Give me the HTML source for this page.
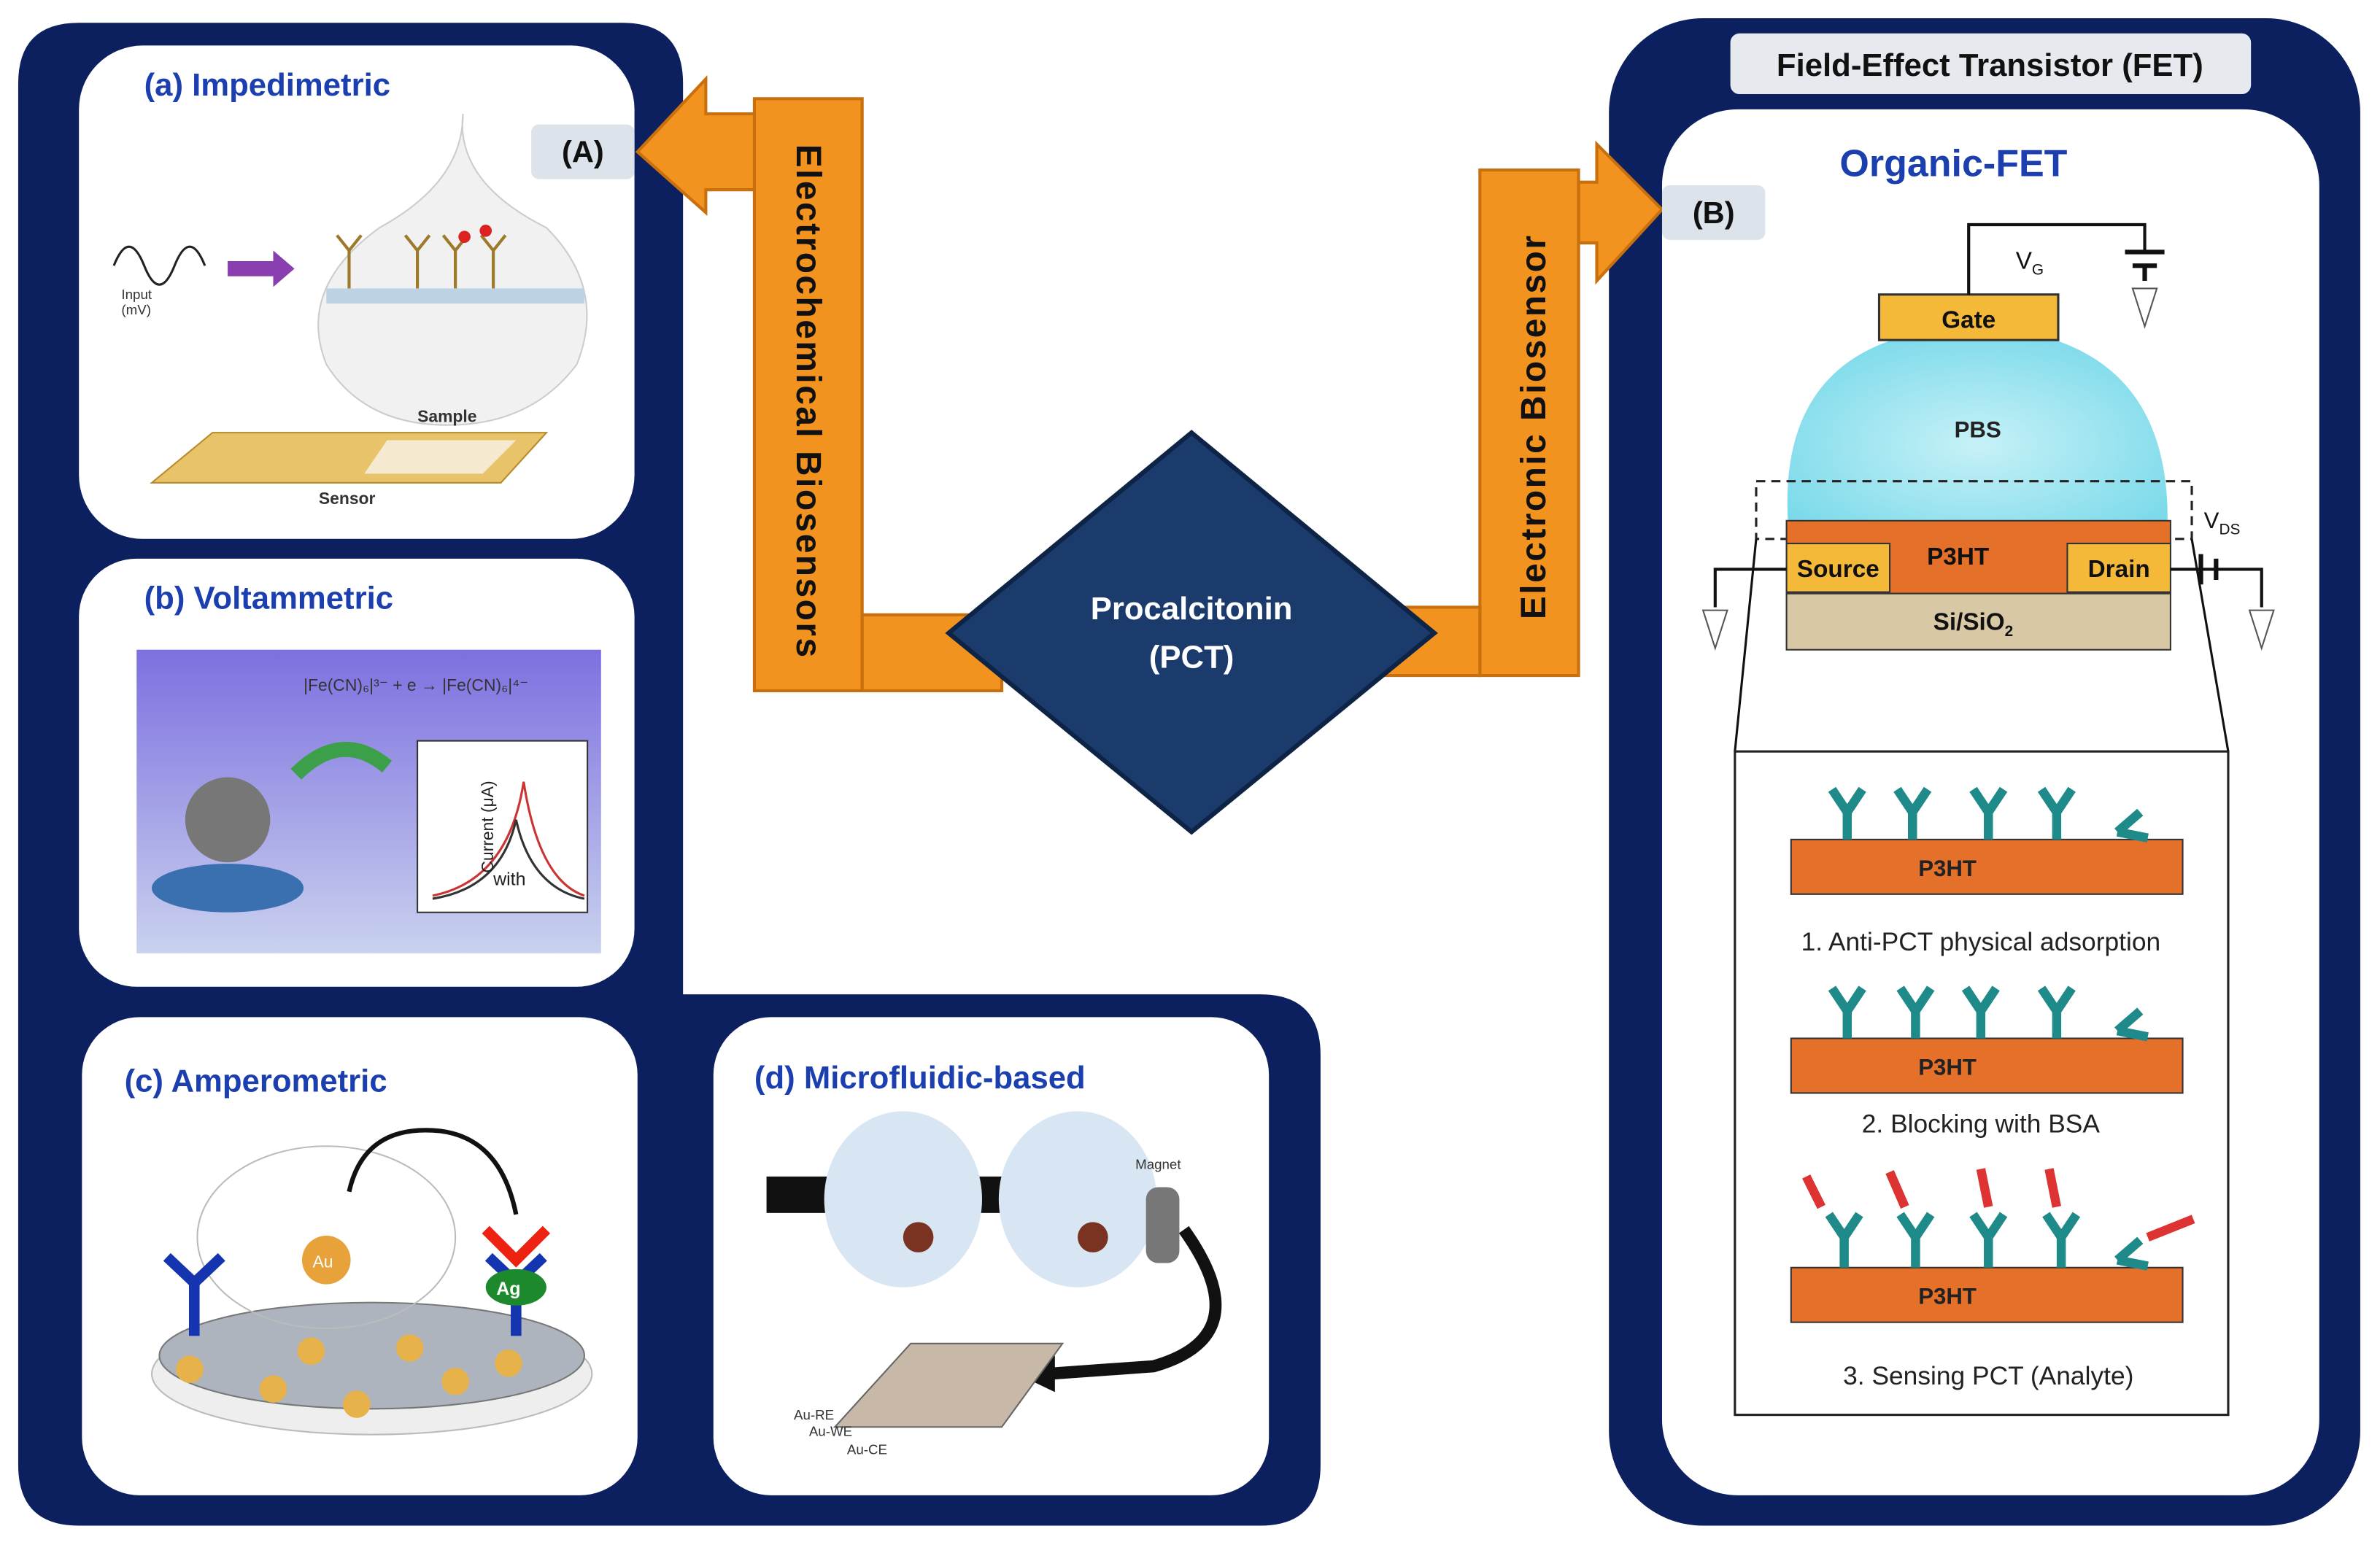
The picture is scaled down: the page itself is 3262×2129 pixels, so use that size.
<!DOCTYPE html>
<html><head><meta charset="utf-8"><style>
html,body{margin:0;padding:0;background:#fff;}
svg{display:block;}
text{font-family:"Liberation Sans",sans-serif;}
</style></head><body>
<svg width="3262" height="2129" viewBox="0 0 1568 1023" preserveAspectRatio="none" xmlns="http://www.w3.org/2000/svg">
<defs>
<linearGradient id="vg" x1="0" y1="0" x2="0" y2="1"><stop offset="0" stop-color="#7d6fe0"/><stop offset="1" stop-color="#c9d2ee"/></linearGradient>
<radialGradient id="pbs" cx="0.5" cy="0.6" r="0.7"><stop offset="0" stop-color="#c7f1f7"/><stop offset="1" stop-color="#6fd6e8"/></radialGradient>
</defs>
<rect width="1568" height="1023" fill="#fff"/>
<!-- left navy L shape -->
<path d="M52,15 H410 Q450,15 450,55 V655 H830 Q870,655 870,695 V965 Q870,1005 830,1005 H52 Q12,1005 12,965 V55 Q12,15 52,15 Z" fill="#0c1f5e"/>
<!-- panels -->
<rect x="52" y="30" width="366" height="325" rx="42" fill="#fff"/>
<rect x="52" y="368" width="366" height="282" rx="38" fill="#fff"/>
<rect x="54" y="670" width="366" height="315" rx="38" fill="#fff"/>
<rect x="470" y="670" width="366" height="315" rx="38" fill="#fff"/>
<text x="95" y="63" font-size="21" font-weight="bold" fill="#1b3fae">(a) Impedimetric</text>
<text x="95" y="401" font-size="21" font-weight="bold" fill="#1b3fae">(b) Voltammetric</text>
<text x="82" y="719" font-size="21" font-weight="bold" fill="#1b3fae">(c) Amperometric</text>
<text x="497" y="717" font-size="21" font-weight="bold" fill="#1b3fae">(d) Microfluidic-based</text>
<!-- (a) illustration -->
<path d="M305,75 Q300,120 360,150 Q400,190 380,240 Q350,280 295,280 Q240,280 215,240 Q195,190 250,150 Q305,120 305,75Z" fill="#f1f1f1" stroke="#ccc"/>
<rect x="215" y="190" width="170" height="10" fill="#bcd3e6"/>
<g stroke="#9c7a2a" stroke-width="2" fill="none">
<path d="M230,190V165M222,155L230,165L238,155"/><path d="M275,190V165M267,155L275,165L283,155"/><path d="M300,190V165M292,155L300,165L308,155"/><path d="M325,190V165M317,155L325,165L333,155"/></g>
<circle cx="320" cy="152" r="4" fill="#d22"/><circle cx="306" cy="156" r="4" fill="#d22"/>
<path d="M75,175 q10,-25 20,0 q10,25 20,0 q10,-25 20,0" stroke="#222" fill="none" stroke-width="1.5"/>
<text x="80" y="197" font-size="9" fill="#333">Input</text><text x="80" y="207" font-size="9" fill="#333">(mV)</text>
<path d="M150,172 h30 v-7 l14,12 -14,12 v-7 h-30Z" fill="#8a3fb0"/>
<path d="M100,318 L140,285 L360,285 L330,318Z" fill="#e9c36a" stroke="#b58c2a"/>
<path d="M255,290 L340,290 L318,312 L240,312Z" fill="#f5ead0"/>
<text x="275" y="278" font-size="11" font-weight="bold" fill="#333">Sample</text>
<text x="210" y="332" font-size="11" font-weight="bold" fill="#333">Sensor</text>
<!-- (b) illustration -->
<rect x="90" y="428" width="306" height="200" fill="url(#vg)"/>
<ellipse cx="150" cy="585" rx="50" ry="16" fill="#3a6fb0"/>
<circle cx="150" cy="540" r="28" fill="#777"/>
<path d="M195,510 q30,-30 60,-5" stroke="#3ca04a" stroke-width="10" fill="none"/>
<rect x="275" y="488" width="112" height="113" fill="#fff" stroke="#333"/>
<path d="M285,590 Q335,580 345,515 Q355,580 385,590" stroke="#c33" fill="none" stroke-width="1.5"/>
<path d="M285,592 Q330,585 340,540 Q350,585 385,592" stroke="#333" fill="none" stroke-width="1.5"/>
<text x="200" y="455" font-size="11" fill="#333" font-family="Liberation Serif">|Fe(CN)₆|³⁻ + e → |Fe(CN)₆|⁴⁻</text>
<text x="325" y="583" font-size="12" fill="#222" font-family="Liberation Serif">with</text>
<text x="270" y="600" font-size="11" fill="#222" transform="rotate(-90 285 560)" font-family="Liberation Serif">Current (μA)</text>
<!-- (c) illustration -->
<ellipse cx="245" cy="905" rx="145" ry="40" fill="#eee" stroke="#bbb"/>
<ellipse cx="245" cy="893" rx="140" ry="35" fill="#aeb4bd" stroke="#777"/>
<ellipse cx="215" cy="815" rx="85" ry="60" fill="none" stroke="#bbb"/>
<circle cx="215" cy="830" r="16" fill="#e8a23a"/><text x="206" y="835" font-size="11" fill="#fff">Au</text>
<g fill="#e8b24a"><circle cx="125" cy="902" r="9"/><circle cx="180" cy="915" r="9"/><circle cx="205" cy="890" r="9"/><circle cx="235" cy="925" r="9"/><circle cx="270" cy="888" r="9"/><circle cx="300" cy="910" r="9"/><circle cx="335" cy="898" r="9"/></g>
<path d="M128,880V845M110,828L128,845L146,828" stroke="#1535b0" stroke-width="7" fill="none"/>
<path d="M340,880V845M322,828L340,845L358,828" stroke="#1535b0" stroke-width="7" fill="none"/>
<path d="M320,810L340,830L360,810" stroke="#e21" stroke-width="7" fill="none"/>
<ellipse cx="340" cy="848" rx="20" ry="12" fill="#1c8a2c"/><text x="327" y="853" font-size="12" font-weight="bold" fill="#fff">Ag</text>
<path d="M230,785 Q240,740 290,745 Q330,750 340,800" stroke="#111" stroke-width="3" fill="none"/>
<!-- (d) illustration -->
<rect x="505" y="775" width="40" height="24" fill="#111"/>
<rect x="640" y="775" width="22" height="24" fill="#111"/>
<ellipse cx="595" cy="790" rx="52" ry="58" fill="#d7e6f2"/>
<ellipse cx="710" cy="790" rx="52" ry="58" fill="#d7e6f2"/>
<circle cx="605" cy="815" r="10" fill="#7a3320"/><circle cx="720" cy="815" r="10" fill="#7a3320"/>
<rect x="755" y="782" width="22" height="50" rx="8" fill="#777"/>
<text x="748" y="770" font-size="9" fill="#333">Magnet</text>
<path d="M780,810 Q830,880 760,900 L690,905" stroke="#111" stroke-width="8" fill="none"/>
<path d="M695,893 L670,905 695,917Z" fill="#111"/>
<path d="M550,940 L600,885 L700,885 L660,940Z" fill="#c8b8a8" stroke="#666"/>
<text x="523" y="935" font-size="9" fill="#333">Au-RE</text><text x="533" y="946" font-size="9" fill="#333">Au-WE</text><text x="558" y="958" font-size="9" fill="#333">Au-CE</text>
<!-- (A) label -->
<rect x="350" y="82" width="68" height="36" rx="5" fill="#dde3ea"/>
<text x="384" y="107" font-size="20" font-weight="bold" fill="#111" text-anchor="middle">(A)</text>
<!-- left orange arrow -->
<path d="M497,65 H568 V455 H497Z" fill="#f2921f" stroke="#c86f0e" stroke-width="2"/>
<path d="M568,405 H660 V455 H568Z" fill="#f2921f" stroke="#c86f0e" stroke-width="2"/>
<path d="M497,75 H465 V52 L420,100 465,140 V125 H497Z" fill="#f2921f" stroke="#c86f0e" stroke-width="2"/>
<text x="0" y="0" font-size="23" font-weight="bold" fill="#111" letter-spacing="1.2" transform="translate(525,95) rotate(90)">Electrochemical  Biosensors</text>
<!-- right navy -->
<rect x="1060" y="12" width="495" height="993" rx="62" fill="#0c1f5e"/>
<rect x="1095" y="72" width="433" height="913" rx="50" fill="#fff"/>
<!-- right orange arrow -->
<path d="M975,112 H1040 V445 H975Z" fill="#f2921f" stroke="#c86f0e" stroke-width="2"/>
<path d="M910,400 H975 V445 H910Z" fill="#f2921f" stroke="#c86f0e" stroke-width="2"/>
<path d="M1040,120 H1052 V95 L1095,138 1052,185 V160 H1040Z" fill="#f2921f" stroke="#c86f0e" stroke-width="2"/>
<text x="0" y="0" font-size="23" font-weight="bold" fill="#111" letter-spacing="1.2" transform="translate(1018,408) rotate(-90)">Electronic  Biosensor</text>
<!-- diamond -->
<path d="M785,285 L945,417 785,548 625,417Z" fill="#1b3b6c" stroke="#0e2446" stroke-width="3"/>
<text x="785" y="408" font-size="21" font-weight="bold" fill="#fff" text-anchor="middle">Procalcitonin</text>
<text x="785" y="440" font-size="21" font-weight="bold" fill="#fff" text-anchor="middle">(PCT)</text>
<rect x="1140" y="22" width="343" height="40" rx="6" fill="#e6e9ee"/>
<text x="1311" y="50" font-size="21" font-weight="bold" fill="#111" text-anchor="middle">Field-Effect Transistor  (FET)</text>
<rect x="1095" y="122" width="68" height="36" rx="5" fill="#dde3ea"/>
<text x="1129" y="147" font-size="20" font-weight="bold" fill="#111" text-anchor="middle">(B)</text>
<text x="1287" y="116" font-size="25" font-weight="bold" fill="#1b3fae" text-anchor="middle">Organic-FET</text>
<!-- FET device -->
<path d="M1178,345 Q1170,220 1300,215 Q1430,220 1428,345Z" fill="url(#pbs)"/>
<text x="1303" y="288" font-size="15" font-weight="bold" fill="#222" text-anchor="middle">PBS</text>
<rect x="1238" y="194" width="118" height="30" fill="#f5b93a" stroke="#333" stroke-width="1.5"/>
<text x="1297" y="216" font-size="16" font-weight="bold" fill="#111" text-anchor="middle">Gate</text>
<path d="M1297,194 V148 H1413 V165" stroke="#111" stroke-width="2" fill="none"/>
<path d="M1400,166 H1426 M1405,175 H1421 M1413,175 V185" stroke="#111" stroke-width="3"/>
<path d="M1405,190 L1421,190 1413,215Z" fill="none" stroke="#555"/>
<text x="1328" y="177" font-size="16" fill="#111">V<tspan font-size="10" dy="4">G</tspan></text>
<rect x="1157" y="317" width="287" height="38" fill="none" stroke="#222" stroke-dasharray="6,4" stroke-width="1.5"/>
<rect x="1177" y="343" width="253" height="48" fill="#e5702a" stroke="#333"/>
<rect x="1177" y="358" width="68" height="32" fill="#f5b93a" stroke="#333"/>
<rect x="1362" y="358" width="68" height="32" fill="#f5b93a" stroke="#333"/>
<text x="1211" y="380" font-size="16" font-weight="bold" fill="#111" text-anchor="middle">Source</text>
<text x="1396" y="380" font-size="16" font-weight="bold" fill="#111" text-anchor="middle">Drain</text>
<text x="1290" y="372" font-size="16" font-weight="bold" fill="#111" text-anchor="middle">P3HT</text>
<rect x="1177" y="391" width="253" height="37" fill="#d9c8a6" stroke="#333"/>
<text x="1300" y="415" font-size="16" font-weight="bold" fill="#111" text-anchor="middle">Si/SiO<tspan font-size="10" dy="4">2</tspan></text>
<path d="M1177,375 H1130 V400 M1430,375 H1490 V400" stroke="#111" stroke-width="2" fill="none"/>
<path d="M1450,365 V385 M1460,368 V382" stroke="#111" stroke-width="3"/>
<text x="1452" y="348" font-size="15" fill="#111">V<tspan font-size="10" dy="4">DS</tspan></text>
<path d="M1122,402 h16 l-8,25Z M1482,402 h16 l-8,25Z" fill="none" stroke="#555"/>
<path d="M1157,355 L1143,495 M1444,355 L1468,495" stroke="#111" stroke-width="1.5"/>
<rect x="1143" y="495" width="325" height="437" fill="#fff" stroke="#222" stroke-width="1.5"/>
<g fill="#e5702a" stroke="#333"><rect x="1180" y="553" width="258" height="36"/><rect x="1180" y="684" width="258" height="36"/><rect x="1180" y="835" width="258" height="36"/></g>
<g font-size="15" font-weight="bold" fill="#222" text-anchor="middle"><text x="1283" y="577">P3HT</text><text x="1283" y="708">P3HT</text><text x="1283" y="859">P3HT</text></g>
<g font-size="17" fill="#222" text-anchor="middle"><text x="1305" y="626">1. Anti-PCT physical adsorption</text><text x="1305" y="746">2. Blocking with BSA</text><text x="1310" y="912">3. Sensing PCT (Analyte)</text></g>
<g stroke="#1f8a8a" stroke-width="6" fill="none">
<path d="M1217,553V535M1207,520L1217,535L1227,520M1260,553V535M1250,520L1260,535L1270,520M1310,553V535M1300,520L1310,535L1320,520M1355,553V535M1345,520L1355,535L1365,520M1395,548L1410,535M1395,548L1415,552"/>
<path d="M1217,684V666M1207,651L1217,666L1227,651M1262,684V666M1252,651L1262,666L1272,651M1305,684V666M1295,651L1305,666L1315,651M1355,684V666M1345,651L1355,666L1365,651M1395,679L1410,666M1395,679L1415,683"/>
<path d="M1215,835V815M1205,800L1215,815L1225,800M1262,835V815M1252,800L1262,815L1272,800M1310,835V815M1300,800L1310,815L1320,800M1358,835V815M1348,800L1358,815L1368,800M1395,830L1410,817M1395,830L1415,834"/></g>
<g stroke="#d33" stroke-width="6" fill="none"><path d="M1200,795L1190,775M1255,795L1245,772M1310,795L1305,770M1355,795L1350,770M1415,815L1445,803"/></g>
</svg>
</body></html>
